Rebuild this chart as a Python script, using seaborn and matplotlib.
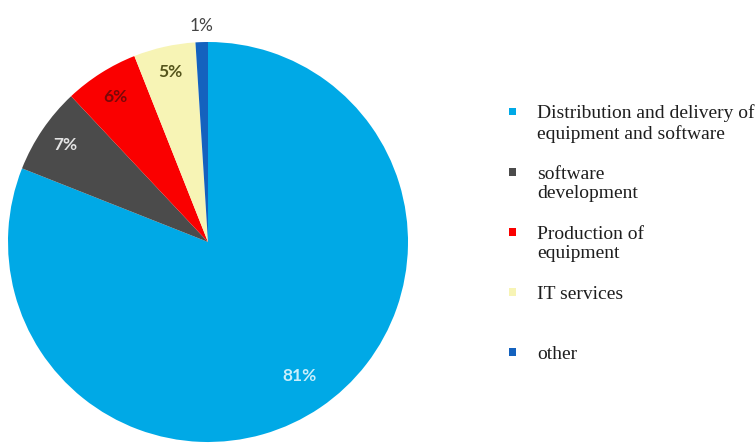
import matplotlib
matplotlib.use("Agg")
import matplotlib.pyplot as plt
import numpy as np
import seaborn as sns
from matplotlib.patches import Rectangle
from matplotlib.legend_handler import HandlerPatch

# Shares of IT-sector activity (percent)
categories = [
    "Distribution and delivery of\nequipment and software",
    "software\ndevelopment",
    "Production of\nequipment",
    "IT services\n",
    "other\n",
]
shares = [81, 7, 6, 5, 1]
pct_labels = ["81%", "7%", "6%", "5%", "1%"]

sns.set_theme(style="white")
palette = sns.color_palette(["#00A9E6", "#4B4B4B", "#FA0000", "#F7F4B5", "#1462BE"])
label_colors = ["#C9EEFB", "#E4E4E4", "#7A0808", "#55551C", "#444444"]
label_weights = ["bold", "bold", "bold", "bold", "normal"]
label_radius = [0.81, 0.86, 0.86, 0.87, 1.08]

fig = plt.figure(figsize=(7.55, 4.43), dpi=100)
ax = fig.add_axes([8 / 755, 1 / 443, 400 / 755, 400 / 443])

wedges, _ = ax.pie(
    shares,
    colors=palette,
    startangle=90,
    counterclock=False,
    wedgeprops=dict(linewidth=0),
)
ax.set_xlim(-1, 1)
ax.set_ylim(-1, 1)
ax.set_aspect("equal")
ax.axis("off")

# percentage labels placed along each wedge's bisector
for w, txt, col, wt, r in zip(wedges, pct_labels, label_colors, label_weights, label_radius):
    mid = np.deg2rad((w.theta1 + w.theta2) / 2)
    ax.text(r * np.cos(mid), r * np.sin(mid), txt, ha="center", va="center",
            color=col, fontsize=12.5, fontweight=wt, family=["Lato", "DejaVu Sans"],
            clip_on=False)


def square_marker(legend, orig_handle, xdescent, ydescent, width, height, fontsize):
    s = 0.38 * fontsize
    lift = 0.6 * fontsize
    return Rectangle((-xdescent + (width - s) / 2, -ydescent + (height - s) / 2 + lift), s, s)


leg = fig.legend(
    wedges,
    categories,
    loc="upper left",
    bbox_to_anchor=(503 / 755, 1 - 104 / 443),
    frameon=False,
    prop={"family": ["Liberation Serif"], "size": 14},
    handler_map={type(wedges[0]): HandlerPatch(patch_func=square_marker)},
    handlelength=1.0,
    handletextpad=0.75,
    labelspacing=1.2,
    borderpad=0,
    borderaxespad=0,
)
for t in leg.get_texts():
    t.set_color("#1e1e1e")

fig.savefig("out.png", dpi=100)
